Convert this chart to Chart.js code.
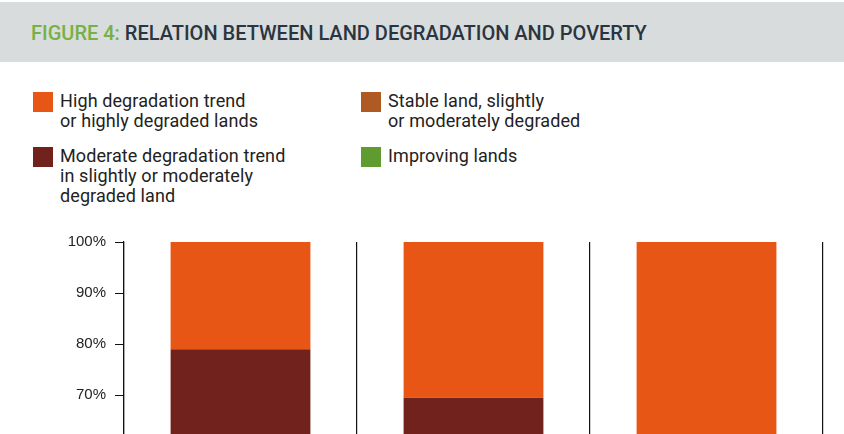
<!DOCTYPE html>
<html lang="en">
<head>
    <meta charset="UTF-8">
    <title>Figure 4: Relation between land degradation and poverty</title>
    <script src="https://cdn.jsdelivr.net/npm/chart.js"></script>
    <style>
        body {
            margin: 0;
            width: 844px;
            height: 434px;
            overflow: hidden;
            background: #fff;
            position: relative;
            font-family: Roboto, "Noto Sans", sans-serif;
        }
        #title-band {
            position: absolute;
            left: 0;
            top: 2px;
            width: 844px;
            height: 60px;
            background: #d8dcdd;
        }
        #title {
            position: absolute;
            left: 31px;
            top: 21px;
            font-size: 20px;
            line-height: 24px;
            font-weight: 500;
            color: #2b3540;
            white-space: nowrap;
        }
        #title span {
            color: #78b043;
        }
        .legend-item {
            position: absolute;
            font-size: 18px;
            letter-spacing: 0.1px;
            line-height: 20px;
            color: #222;
        }
        .legend-item .box {
            position: absolute;
            left: -27px;
            top: 1px;
            width: 20px;
            height: 20px;
        }
        /* taller than the window on purpose: the figure is cut off at the bottom */
        #chart-container {
            position: absolute;
            left: 0;
            top: 224px;
            width: 844px;
            height: 230px;
        }
    </style>
</head>
<body>
    <div id="title-band"></div>
    <div id="title"><span>FIGURE 4:</span> RELATION BETWEEN LAND DEGRADATION AND POVERTY</div>
    <div id="legend"></div>
    <div id="chart-container">
        <canvas id="chart"></canvas>
    </div>

    <script>
        // categories are below the visible crop, so their labels are not shown
        const categories = ['Group 1', 'Group 2', 'Group 3'];

        const seriesNames = [
            'Improving lands',
            'Stable land, slightly or moderately degraded',
            'Moderate degradation trend in slightly or moderately degraded land',
            'High degradation trend or highly degraded lands'
        ];
        const improving = [15, 13, 12];
        const stable = [40, 38, 34];
        const moderate = [24, 18.5, 12];
        const high = [21, 30.5, 42];

        const seriesColors = ['#5f9b2e', '#b05a23', '#72221c', '#e75614'];

        const tickValues = [70, 80, 90, 100];
        const yMin = 62;
        const yMax = 100;

        // legend (drawn as html, laid out like the figure)
        const legendItems = [
            { lines: ['High degradation trend', 'or highly degraded lands'], color: seriesColors[3], left: 60, top: 91 },
            { lines: ['Stable land, slightly', 'or moderately degraded'], color: seriesColors[1], left: 388, top: 91 },
            { lines: ['Moderate degradation trend', 'in slightly or moderately', 'degraded land'], color: seriesColors[2], left: 60, top: 146 },
            { lines: ['Improving lands'], color: seriesColors[0], left: 388, top: 146 }
        ];
        const legend = document.getElementById('legend');
        legendItems.forEach(function (item) {
            const div = document.createElement('div');
            div.className = 'legend-item';
            div.style.left = item.left + 'px';
            div.style.top = item.top + 'px';
            div.innerHTML = '<div class="box" style="background:' + item.color + '"></div>' + item.lines.join('<br>');
            legend.appendChild(div);
        });

        const allSeries = [improving, stable, moderate, high];

        const ctx = document.getElementById('chart').getContext('2d');
        const chart = new Chart(ctx, {
            type: 'bar',
            data: {
                labels: categories,
                datasets: allSeries.map(function (values, i) {
                    return {
                        label: seriesNames[i],
                        data: values,
                        backgroundColor: seriesColors[i],
                        borderWidth: 0,
                        barPercentage: 0.6,
                        categoryPercentage: 1.0
                    };
                })
            },
            options: {
                responsive: true,
                maintainAspectRatio: false,
                animation: false,
                layout: {
                    padding: { top: 13, right: 21, bottom: 0, left: 0 }
                },
                plugins: {
                    legend: { display: false },
                    tooltip: { enabled: false }
                },
                scales: {
                    x: {
                        stacked: true,
                        ticks: { display: false },
                        afterFit: function (scale) {
                            scale.height = 0;
                        },
                        grid: {
                            offset: true,
                            color: '#111',
                            lineWidth: 1.2,
                            drawTicks: false
                        },
                        border: { display: false }
                    },
                    y: {
                        stacked: true,
                        min: yMin,
                        max: yMax,
                        afterBuildTicks: function (scale) {
                            scale.ticks = tickValues.map(function (v) { return { value: v }; });
                        },
                        afterFit: function (scale) {
                            scale.width = 124;
                        },
                        ticks: {
                            padding: 9,
                            color: '#222',
                            font: { family: '"Liberation Sans", Arial, sans-serif', size: 15 },
                            callback: function (v) { return v + '%'; }
                        },
                        grid: {
                            drawOnChartArea: false,
                            drawTicks: true,
                            tickLength: 9,
                            color: '#111'
                        },
                        border: { display: true, color: '#111', width: 1.2 }
                    }
                }
            }
        });
    </script>
</body>
</html>
